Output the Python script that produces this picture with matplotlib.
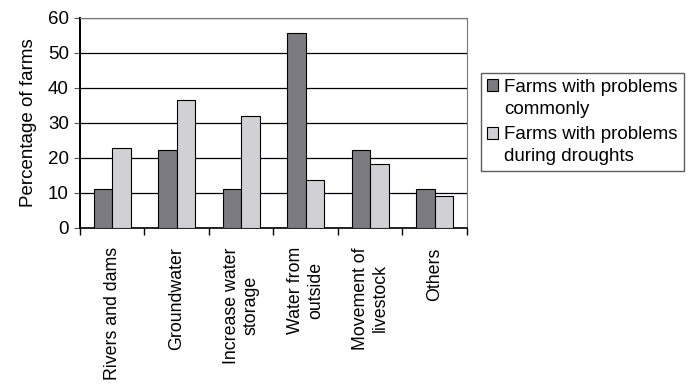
import matplotlib
matplotlib.use("Agg")
import matplotlib.pyplot as plt
from matplotlib.legend_handler import HandlerPatch
from matplotlib.patches import Rectangle
import numpy as np

plt.rcParams['font.family'] = ['Liberation Sans', 'DejaVu Sans']

categories = ['Rivers and dams', 'Groundwater', 'Increase water\nstorage',
              'Water from\noutside', 'Movement of\nlivestock', 'Others']
common = [11.1, 22.2, 11.1, 55.6, 22.2, 11.1]
drought = [22.7, 36.4, 31.8, 13.6, 18.2, 9.1]
series_labels = ['Farms with problems\ncommonly',
                 'Farms with problems\nduring droughts']

LINESPACING = 1.4


def top_square(legend, orig_handle, xdescent, ydescent, width, height,
               fontsize):
    # put the swatch beside the first line of a two-line label
    shift = fontsize * LINESPACING / 2
    return Rectangle((-xdescent, -ydescent + shift), width, height)


fig = plt.figure(figsize=(6.92, 3.86), dpi=100)
ax = fig.add_axes([0.1156, 0.410, 0.5592, 0.544])

x = np.arange(len(categories))
w = 0.29
b1 = ax.bar(x - w / 2, common, w, color='#7b7b81', edgecolor='black',
            linewidth=0.8, zorder=3)
b2 = ax.bar(x + w / 2, drought, w, color='#d1d1d5', edgecolor='black',
            linewidth=0.8, zorder=3)

ax.set_xlim(-0.5, len(categories) - 0.5)
ax.set_ylim(0, 60)
ax.set_yticks(range(0, 61, 10))
ax.yaxis.grid(True, color='black', linewidth=0.9, zorder=0)

ax.set_xticks(x)
ax.set_xticklabels(categories, rotation=90, fontsize=12.8, va='top',
                   multialignment='center')
ax.tick_params(axis='x', length=0, pad=14)
ax.set_xticks(np.arange(-0.5, len(categories)), minor=True)
ax.tick_params(axis='x', which='minor', length=5, width=1, color='black')
ax.tick_params(axis='y', labelsize=13.5, length=4, color='#555555', pad=4)

ax.spines['left'].set_color('black')
ax.spines['left'].set_linewidth(1.4)
ax.spines['bottom'].set_color('black')
ax.spines['bottom'].set_linewidth(1.2)
ax.spines['top'].set_color('#777777')
ax.spines['right'].set_color('#777777')

ax.set_ylabel('Percentage of farms', fontsize=13.5, labelpad=8)

h1, h2 = b1.patches[0], b2.patches[0]
handler = HandlerPatch(patch_func=top_square)
leg = fig.legend(handles=[h1, h2], labels=series_labels,
                 loc='upper left', bbox_to_anchor=(0.695, 0.811),
                 fontsize=13.5, frameon=True, fancybox=False,
                 edgecolor='#333333', handlelength=0.6, handleheight=0.6,
                 handletextpad=0.35, borderpad=0.3, labelspacing=0.45,
                 borderaxespad=0,
                 handler_map={h1: handler, h2: handler})
leg.get_frame().set_linewidth(1.0)
for t in leg.get_texts():
    t.set_linespacing(LINESPACING)

fig.savefig('out.png', dpi=100)
